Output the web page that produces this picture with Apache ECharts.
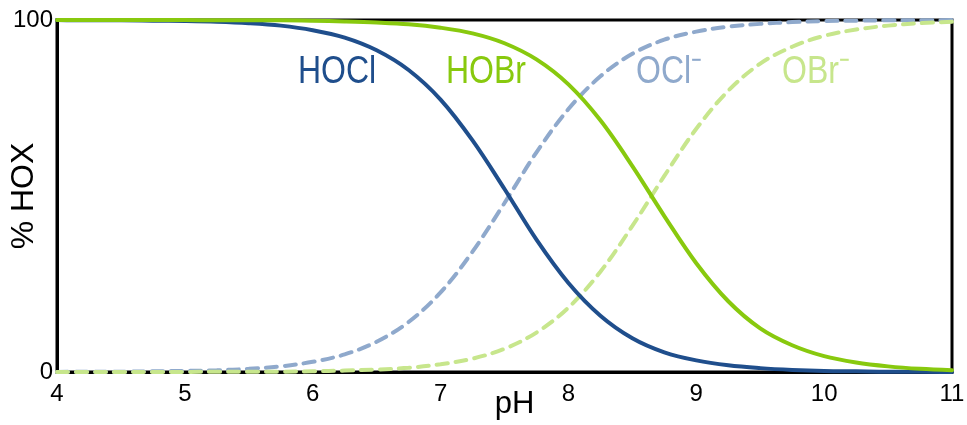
<!DOCTYPE html>
<html>
<head>
<meta charset="utf-8">
<script src="https://cdn.jsdelivr.net/npm/echarts@6/dist/echarts.min.js"></script>
<style>
  html, body { margin: 0; padding: 0; background: #fff; }
  #main { width: 967px; height: 425px; }
</style>
</head>
<body>
<div id="main"></div>
<script>
// pH values along the x axis
var pH = [4, 4.25, 4.5, 4.75, 5, 5.25, 5.5, 5.75, 6, 6.25, 6.5, 6.75, 7, 7.25, 7.5, 7.75,
  8, 8.25, 8.5, 8.75, 9, 9.25, 9.5, 9.75, 10, 10.25, 10.5, 10.75, 11];

// percentages
var hocl = [100, 99.9, 99.9, 99.8, 99.7, 99.5, 99.1, 98.4, 97.1, 95.0, 91.4, 85.8, 77.4, 65.8, 52.0, 37.6,
  25.3, 16.0, 9.6, 5.6, 3.3, 1.9, 1.1, 0.6, 0.3, 0.2, 0.1, 0.1, 0];
var ocl = [0, 0.1, 0.1, 0.2, 0.3, 0.5, 0.9, 1.6, 2.9, 5.0, 8.6, 14.2, 22.6, 34.2, 48.0, 62.4,
  74.7, 84.0, 90.4, 94.4, 96.7, 98.1, 98.9, 99.4, 99.7, 99.8, 99.9, 99.9, 100];
var hobr = [100, 100, 100, 100, 100, 99.9, 99.9, 99.9, 99.8, 99.6, 99.3, 98.8, 97.8, 96.2, 93.4, 88.8,
  81.7, 71.5, 58.5, 44.3, 30.9, 20.1, 12.4, 7.6, 4.5, 2.7, 1.6, 0.9, 0.5];
var obr = [0, 0, 0, 0, 0, 0.1, 0.1, 0.1, 0.2, 0.4, 0.7, 1.2, 2.2, 3.8, 6.6, 11.2,
  18.3, 28.5, 41.5, 55.7, 69.1, 79.9, 87.6, 92.4, 95.5, 97.3, 98.4, 99.1, 99.5];

var xTicks = [4, 5, 6, 7, 8, 9, 10, 11];
var yTicks = [0, 100];

function pairs(ys) {
  return ys.map(function (y, i) { return [pH[i], y]; });
}

var FONT = "'Liberation Sans', Arial, sans-serif";

var chart = echarts.init(document.getElementById('main'));

function curve(name, data, color, dashed) {
  return {
    name: name,
    type: 'line',
    data: pairs(data),
    smooth: 0.35,
    showSymbol: false,
    lineStyle: {
      color: color,
      width: 4,
      type: dashed ? [11, 8] : 'solid',
      cap: 'round'
    },
    emphasis: { disabled: true }
  };
}

// narrow-looking series labels
function tag(text, x, color) {
  return {
    type: 'text', x: x, y: 72, scaleX: 0.82,
    style: { text: text, fill: color, font: '39px ' + FONT, textVerticalAlign: 'middle' }
  };
}

var option = {
  animation: false,
  grid: {
    left: 57, right: 15, top: 20, bottom: 53,
    outerBoundsMode: 'none',
    containLabel: false,
    show: true,
    borderColor: '#000',
    borderWidth: 3
  },
  xAxis: {
    type: 'value',
    min: xTicks[0],
    max: xTicks[xTicks.length - 1],
    interval: 1,
    name: 'pH',
    nameLocation: 'middle',
    nameGap: 17,
    nameMoveOverlap: false,
    nameTextStyle: { fontFamily: FONT, fontSize: 31, color: '#000', padding: [0, 0, 0, 20] },
    axisLine: { lineStyle: { color: '#000', width: 3 } },
    axisTick: { show: false },
    splitLine: { show: false },
    axisLabel: { fontFamily: FONT, fontSize: 24, color: '#000', margin: 10 }
  },
  yAxis: {
    type: 'value',
    min: yTicks[0],
    max: yTicks[1],
    interval: 100,
    name: '% HOX',
    nameLocation: 'middle',
    nameGap: 17,
    nameMoveOverlap: false,
    nameTextStyle: { fontFamily: FONT, fontSize: 32, color: '#000' },
    axisLine: { show: true, lineStyle: { color: '#000', width: 3 } },
    axisTick: { show: false },
    splitLine: { show: false },
    axisLabel: { fontFamily: FONT, fontSize: 24, color: '#000', margin: 4 }
  },
  graphic: [
    tag('HOCl', 298, '#1f4e8c'),
    tag('HOBr', 446, '#88c90e'),
    tag('OCl\u207B', 636, '#8fa9cc'),
    tag('OBr\u207B', 782, '#c7e68c')
  ],
  series: [
    curve('OCl-', ocl, '#8fa9cc', true),
    curve('OBr-', obr, '#c7e68c', true),
    curve('HOCl', hocl, '#1f4e8c', false),
    curve('HOBr', hobr, '#88c90e', false)
  ]
};

chart.setOption(option);
</script>
</body>
</html>
